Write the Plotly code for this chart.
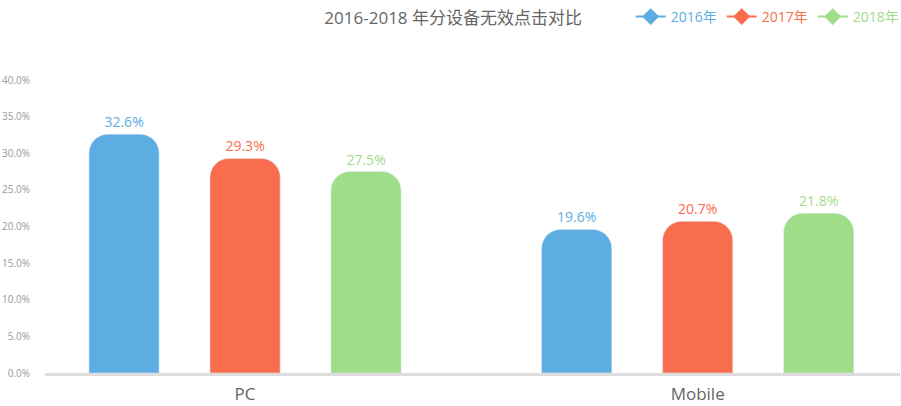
import plotly.graph_objects as go

categories = ["PC", "Mobile"]
series_names = ["2016年", "2017年", "2018年"]
values_2016 = [32.6, 19.6]
values_2017 = [29.3, 20.7]
values_2018 = [27.5, 21.8]
colors = ["#5dade2", "#f96d4f", "#9fdd88"]
y_ticks = [0, 5, 10, 15, 20, 25, 30, 35, 40]

FONT = "Open Sans, Noto Sans CJK SC, sans-serif"

fig = go.Figure()
for name, vals, col in zip(series_names, [values_2016, values_2017, values_2018], colors):
    fig.add_trace(go.Bar(
        x=categories, y=vals, name=name, marker_color=col, showlegend=False,
        texttemplate="%{y:.1f}%", textposition="outside",
        textfont=dict(color=col, size=14, family=FONT), cliponaxis=False,
    ))
for name, col in zip(series_names, colors):
    fig.add_trace(go.Scatter(
        x=[None], y=[None], mode="lines+markers",
        name=f"<span style='color:{col}'>{name}</span>",
        line=dict(color=col, width=2),
        marker=dict(symbol="diamond", size=13, color=col),
    ))

fig.update_layout(
    width=901, height=406,
    margin=dict(l=45, r=1, t=80, b=33),
    paper_bgcolor="white", plot_bgcolor="white",
    font=dict(family=FONT, color="#666"),
    barmode="group", bargap=0.198, bargroupgap=0.42, barcornerradius=19,
    title=dict(text="2016-2018 年分设备无效点击对比", x=0.503, xref="container", xanchor="center",
               y=1 - 18 / 406, yref="container", yanchor="middle",
               font=dict(size=17, color="#666", family=FONT)),
    legend=dict(orientation="h", x=0.700, xref="container", xanchor="left",
                y=1 - 17 / 406, yref="container", yanchor="middle",
                font=dict(size=14, family=FONT), itemwidth=30, bgcolor="rgba(0,0,0,0)",
                traceorder="normal"),
    xaxis=dict(range=[-0.442, 1.447], showline=True, linecolor="#dddddd", linewidth=3,
               showgrid=False, zeroline=False, ticks="", ticklabelstandoff=4,
               tickfont=dict(size=17, color="#666", family=FONT)),
    yaxis=dict(range=[0, 40], tickvals=y_ticks, ticktext=[f"{v:.1f}%" for v in y_ticks],
               showgrid=False, zeroline=False, showline=False, ticks="",
               ticklabelstandoff=14,
               tickfont=dict(size=10, color="#999", family=FONT)),
)

fig.write_html("out.html", config={"displayModeBar": False},
               post_script="document.body.style.margin='0';")
